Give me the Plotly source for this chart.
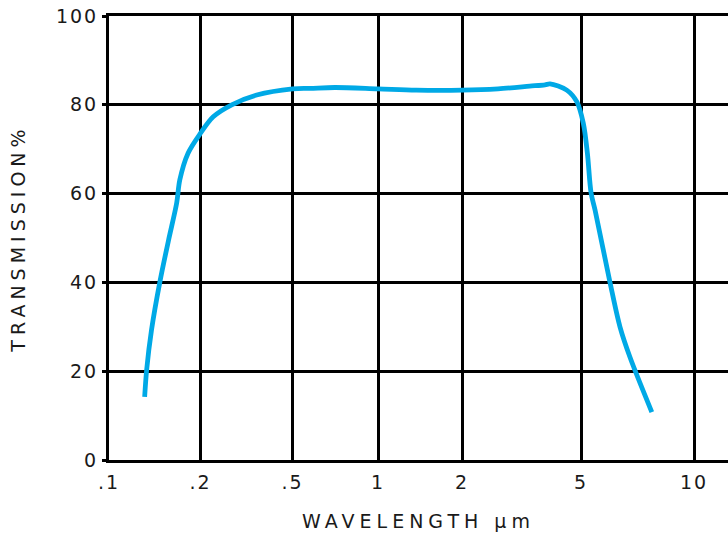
import numpy as np
import plotly.graph_objects as go

# ---- data ----
wavelength_um = [0.131, 0.133, 0.138, 0.147, 0.157, 0.167, 0.171, 0.182, 0.200,
                 0.227, 0.273, 0.350, 0.500, 0.576, 0.705, 1.00, 1.37, 2.00,
                 2.64, 3.37, 3.79, 3.94, 4.48, 4.84, 5.07, 5.20, 5.32, 5.45,
                 5.97, 6.35, 6.75, 7.72]
transmission_pct = [14.2, 20.3, 29.3, 40.1, 49.5, 57.9, 63.1, 69.1, 73.6,
                    77.3, 80.0, 82.2, 83.6, 83.7, 83.9, 83.6, 83.3, 83.3,
                    83.6, 84.2, 84.5, 84.7, 83.3, 80.7, 75.9, 69.1, 60.1, 56.3,
                    40.1, 30.0, 23.2, 10.8]

tick_values = [0.1, 0.2, 0.5, 1, 2, 5, 10]
tick_labels = [".1", ".2", ".5", "1", "2", "5", "10"]
y_ticks = [0, 20, 40, 60, 80, 100]

# ---- the chart's own (non-uniform) wavelength scale: grid positions of the ticks ----
scale_pos = [0, 91.5, 183.5, 269, 353, 472, 585]


def wl_scale(w):
    return np.interp(np.log10(w), np.log10(tick_values), scale_pos)


x_plot = wl_scale(np.array(wavelength_um))
tick_pos = wl_scale(np.array(tick_values))

FONT = "DejaVu Sans"
TXT = "#1a1a1a"

fig = go.Figure()
fig.add_trace(go.Scatter(
    x=x_plot, y=transmission_pct, mode="lines",
    line=dict(color="#00a9e6", width=4.8, shape="spline", smoothing=0.9),
    hoverinfo="skip", showlegend=False,
))

fig.update_layout(
    width=728, height=539,
    margin=dict(l=109, r=0, t=16, b=79),
    paper_bgcolor="white", plot_bgcolor="white",
    font=dict(family=FONT, size=19, color=TXT),
    showlegend=False,
)
fig.update_xaxes(
    range=[0, 619], tickmode="array", tickvals=tick_pos, ticktext=tick_labels,
    showgrid=True, gridcolor="black", gridwidth=3,
    showline=True, linecolor="black", linewidth=3, mirror=True,
    ticks="", ticklabelstandoff=3, zeroline=False,
    title=dict(text="WAVELENGTH μm", standoff=23, font=dict(size=19)),
)
fig.update_yaxes(
    range=[0, 100], tickmode="array", tickvals=y_ticks,
    showgrid=True, gridcolor="black", gridwidth=3,
    showline=True, linecolor="black", linewidth=3,
    ticks="outside", ticklen=4, tickwidth=3, tickcolor="black",
    ticklabelstandoff=0, zeroline=False,
    title=dict(text="TRANSMISSION%", standoff=32, font=dict(size=19)),
)

post = """
document.body.style.margin = '0';
var s = document.createElement('style');
s.textContent = '.xtick text, .ytick text {letter-spacing:2px;} .g-xtitle text {letter-spacing:5px;} .g-ytitle text {letter-spacing:5px;}';
document.head.appendChild(s);
"""
fig.write_html("out.html", post_script=post, config={"displayModeBar": False})
